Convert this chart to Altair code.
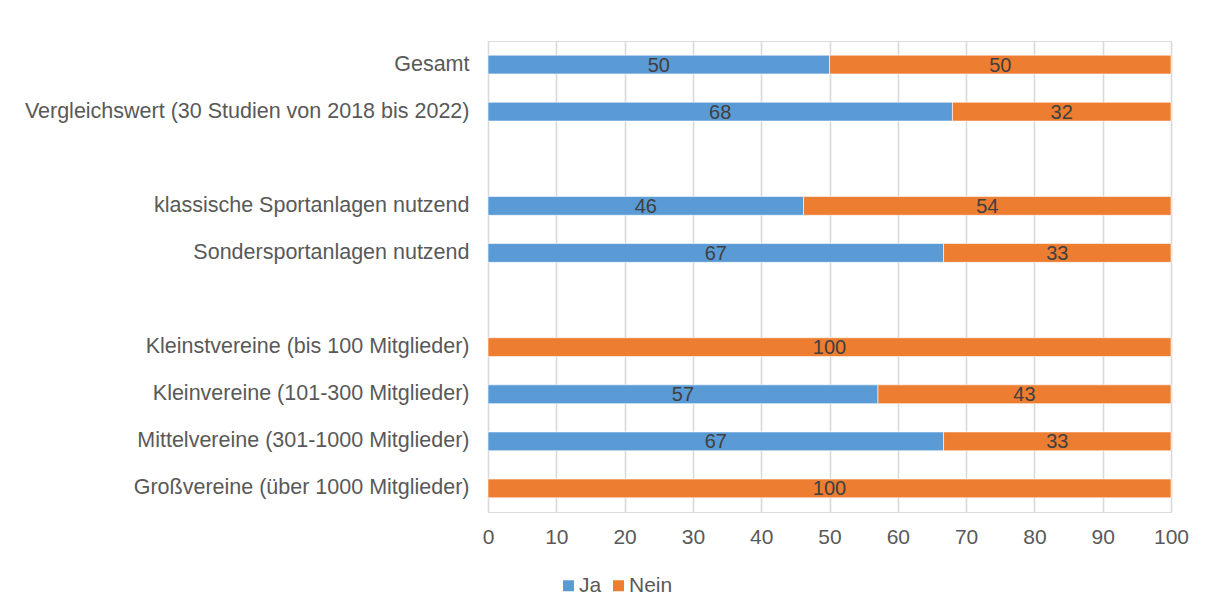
import altair as alt
import pandas as pd

categories = [
    "Gesamt",
    "Vergleichswert (30 Studien von 2018 bis 2022)",
    "klassische Sportanlagen nutzend",
    "Sondersportanlagen nutzend",
    "Kleinstvereine (bis 100 Mitglieder)",
    "Kleinvereine (101-300 Mitglieder)",
    "Mittelvereine (301-1000 Mitglieder)",
    "Großvereine (über 1000 Mitglieder)",
]
ja = [50, 68, 46.2, 66.7, 0, 57.1, 66.7, 0]
nein = [50, 32, 53.8, 33.3, 100, 42.9, 33.3, 100]
series = ["Ja", "Nein"]
colors = ["#5B9BD5", "#ED7D31"]

axis_order = [
    categories[0], categories[1], "_gap1",
    categories[2], categories[3], "_gap2",
    categories[4], categories[5], categories[6], categories[7],
]

rows = []
for c, a, b in zip(categories, ja, nein):
    rows.append({"cat": c, "serie": "Ja", "value": a, "ord": 0})
    rows.append({"cat": c, "serie": "Nein", "value": b, "ord": 1})
df = pd.DataFrame(rows)

FONT = "Liberation Sans"

y_enc = alt.Y(
    "cat:N",
    sort=axis_order,
    scale=alt.Scale(domain=axis_order, paddingInner=0.6, paddingOuter=0.3),
    axis=alt.Axis(
        title=None, domain=False, ticks=False, grid=False,
        labelPadding=19, labelFontSize=21.5, labelColor="#595959",
        labelFont=FONT, labelLimit=600,
        labelExpr="indexof(datum.value, '_gap') == 0 ? '' : datum.value",
    ),
)

bars = alt.Chart(df).mark_bar(stroke="white", strokeWidth=0.6).encode(
    x=alt.X(
        "value:Q", stack="zero",
        scale=alt.Scale(domain=[0, 100], nice=False),
        axis=alt.Axis(
            title=None, values=list(range(0, 101, 10)), domain=False, ticks=False,
            grid=True, gridColor="#D9D9D9", gridWidth=1.6,
            labelFontSize=21, labelColor="#595959", labelFont=FONT,
            labelPadding=14, labelFlush=False,
        ),
    ),
    y=y_enc,
    color=alt.Color(
        "serie:N",
        scale=alt.Scale(domain=series, range=colors),
        legend=alt.Legend(
            title=None, orient="none", direction="horizontal",
            legendX=70, legendY=534,
            symbolType="square", symbolSize=121, symbolStrokeWidth=0,
            labelFontSize=21, labelColor="#595959", labelFont=FONT,
            labelOffset=0, columnPadding=6, padding=0,
        ),
    ),
    order=alt.Order("ord:Q"),
)

labels = alt.Chart(df).transform_stack(
    stack="value", groupby=["cat"], as_=["x0", "x1"],
    sort=[alt.SortField("ord", order="ascending")],
).transform_filter(
    "datum.value > 0"
).transform_calculate(
    mid="(datum.x0 + datum.x1) / 2"
).mark_text(
    fontSize=20, color="#404040", font=FONT, baseline="middle", align="center", dy=1
).encode(
    x=alt.X("mid:Q"),
    y=alt.Y("cat:N", sort=axis_order),
    text=alt.Text("value:Q", format=".0f"),
)

chart = alt.layer(bars, labels).properties(
    width=683,
    height=471,
    autosize=alt.AutoSizeParams(type="none"),
    padding={"left": 480, "top": 33, "right": 20, "bottom": 90},
).configure_view(stroke=None).configure(background="white")

chart.save("out.html", embed_options={"renderer": "svg", "actions": False})
